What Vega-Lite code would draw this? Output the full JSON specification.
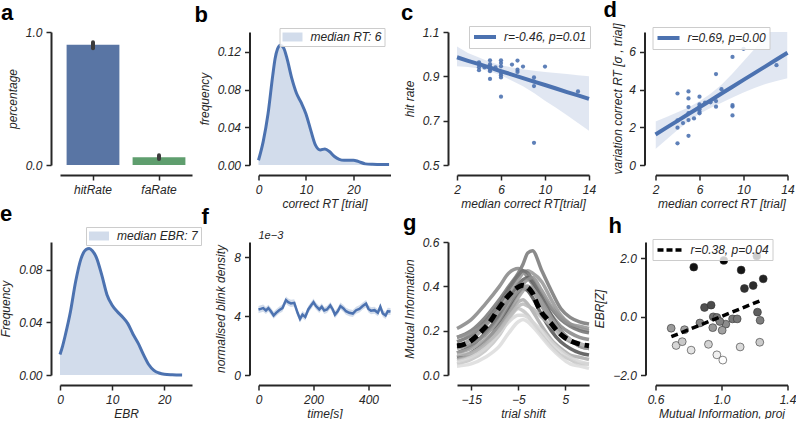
{
  "$schema": "https://vega.github.io/schema/vega-lite/v6.json",
  "padding": {"left": -1, "top": -2, "right": 0, "bottom": 0},
  "background": "white",
  "config": {
    "font": "Liberation Sans",
    "view": {"stroke": null},
    "axis": {
      "labelFont": "Liberation Sans", "labelFontStyle": "italic", "labelFontSize": 12, "labelColor": "#262626",
      "titleFont": "Liberation Sans", "titleFontStyle": "italic", "titleFontWeight": "normal", "titleFontSize": 12, "titleColor": "#262626",
      "domainColor": "#262626", "domainWidth": 2, "tickColor": "#262626", "tickWidth": 1.5, "tickSize": 5,
      "grid": false, "labelPadding": 4, "titlePadding": 3, "labelFlush": false, "labelOverlap": false
    },
    "axisX": {"offset": 10},
    "axisY": {"offset": 9, "titlePadding": 6},
    "title": {"anchor": "start", "frame": "group", "fontSize": 22, "fontWeight": "bold", "font": "Liberation Sans", "color": "#000000", "offset": 1},
    "legend": {
      "title": null, "orient": "none", "labelFont": "Liberation Sans", "labelFontStyle": "italic", "labelFontSize": 12, "labelColor": "#262626",
      "strokeColor": "#cccccc", "fillColor": "rgba(255,255,255,0.85)", "padding": 3
    }
  },
  "resolve": {
    "scale": {"color": "independent", "fill": "independent", "stroke": "independent"},
    "legend": {"color": "independent", "fill": "independent", "stroke": "independent"}
  },
  "datasets": {
    "rates": [
      {"cat": "hitRate", "rate": 0.905, "lo": 0.878, "hi": 0.922},
      {"cat": "faRate", "rate": 0.058, "lo": 0.045, "hi": 0.073}
    ],
    "rtkde": [
      {"rt": 0, "f": 0.005}, {"rt": 1, "f": 0.025}, {"rt": 2, "f": 0.054}, {"rt": 3, "f": 0.095}, {"rt": 3.5, "f": 0.113},
      {"rt": 4, "f": 0.123}, {"rt": 4.6, "f": 0.127}, {"rt": 5.3, "f": 0.124}, {"rt": 6, "f": 0.113}, {"rt": 7, "f": 0.092},
      {"rt": 8, "f": 0.076}, {"rt": 9, "f": 0.066}, {"rt": 10, "f": 0.054}, {"rt": 11, "f": 0.037}, {"rt": 12, "f": 0.021},
      {"rt": 13, "f": 0.016}, {"rt": 14, "f": 0.017}, {"rt": 15, "f": 0.014}, {"rt": 16, "f": 0.009}, {"rt": 17, "f": 0.006},
      {"rt": 18, "f": 0.005}, {"rt": 20, "f": 0.005}, {"rt": 21, "f": 0.0038}, {"rt": 22.5, "f": 0.0012}, {"rt": 24, "f": 0.0007},
      {"rt": 26, "f": 0.0005}, {"rt": 27.5, "f": 0.0005}
    ],
    "cpts": [
      {"rt": 4, "hit": 0.963}, {"rt": 4, "hit": 0.953}, {"rt": 4, "hit": 0.941}, {"rt": 4, "hit": 0.928}, {"rt": 4.5, "hit": 0.94},
      {"rt": 5, "hit": 0.972}, {"rt": 5, "hit": 0.955}, {"rt": 5, "hit": 0.945}, {"rt": 5, "hit": 0.93}, {"rt": 5, "hit": 0.923},
      {"rt": 5, "hit": 0.888}, {"rt": 5.5, "hit": 0.94}, {"rt": 6, "hit": 0.972}, {"rt": 6, "hit": 0.96}, {"rt": 6, "hit": 0.945},
      {"rt": 6, "hit": 0.915}, {"rt": 6, "hit": 0.905}, {"rt": 6, "hit": 0.895}, {"rt": 6, "hit": 0.808}, {"rt": 7, "hit": 0.953},
      {"rt": 7.5, "hit": 0.971}, {"rt": 7.5, "hit": 0.93}, {"rt": 7.5, "hit": 0.92}, {"rt": 8, "hit": 0.944}, {"rt": 9, "hit": 0.895},
      {"rt": 9, "hit": 0.877}, {"rt": 9, "hit": 0.856}, {"rt": 9, "hit": 0.6}, {"rt": 10, "hit": 0.944}, {"rt": 13, "hit": 0.832}
    ],
    "cfit": [
      {"rt": 2, "y": 0.986, "lo": 0.945, "hi": 1.035}, {"rt": 3, "y": 0.97, "lo": 0.942, "hi": 1.005},
      {"rt": 4, "y": 0.955, "lo": 0.935, "hi": 0.985}, {"rt": 5, "y": 0.939, "lo": 0.922, "hi": 0.965},
      {"rt": 6, "y": 0.923, "lo": 0.905, "hi": 0.95}, {"rt": 7, "y": 0.908, "lo": 0.88, "hi": 0.94},
      {"rt": 8, "y": 0.892, "lo": 0.855, "hi": 0.932}, {"rt": 9, "y": 0.876, "lo": 0.825, "hi": 0.925},
      {"rt": 10, "y": 0.861, "lo": 0.79, "hi": 0.92}, {"rt": 11, "y": 0.845, "lo": 0.758, "hi": 0.915},
      {"rt": 12, "y": 0.829, "lo": 0.724, "hi": 0.91}, {"rt": 13, "y": 0.814, "lo": 0.69, "hi": 0.905},
      {"rt": 14, "y": 0.798, "lo": 0.655, "hi": 0.9}
    ],
    "dpts": [
      {"rt": 4, "sd": 3.79}, {"rt": 4, "sd": 2.36}, {"rt": 4, "sd": 1.98}, {"rt": 4, "sd": 1.15}, {"rt": 4.5, "sd": 2.22},
      {"rt": 5, "sd": 3.9}, {"rt": 5, "sd": 3.53}, {"rt": 5, "sd": 3.07}, {"rt": 5, "sd": 2.75}, {"rt": 5, "sd": 2.38},
      {"rt": 5, "sd": 1.55}, {"rt": 5.5, "sd": 2.47}, {"rt": 6, "sd": 3.62}, {"rt": 6, "sd": 3.21}, {"rt": 6, "sd": 3.09},
      {"rt": 6, "sd": 2.96}, {"rt": 6, "sd": 2.82}, {"rt": 6, "sd": 2.74}, {"rt": 6.5, "sd": 3.3}, {"rt": 7, "sd": 3.32},
      {"rt": 7.5, "sd": 4.82}, {"rt": 7.5, "sd": 3.39}, {"rt": 7.5, "sd": 3.09}, {"rt": 8, "sd": 4.02}, {"rt": 9, "sd": 5.73},
      {"rt": 9, "sd": 3.18}, {"rt": 9, "sd": 3.1}, {"rt": 9, "sd": 2.63}, {"rt": 10, "sd": 6.16}, {"rt": 13, "sd": 5.29}
    ],
    "dfit": [
      {"rt": 2, "y": 1.62, "lo": 0.85, "hi": 2.3}, {"rt": 3, "y": 1.98, "lo": 1.35, "hi": 2.55},
      {"rt": 4, "y": 2.34, "lo": 1.85, "hi": 2.8}, {"rt": 5, "y": 2.7, "lo": 2.3, "hi": 3.05},
      {"rt": 6, "y": 3.06, "lo": 2.72, "hi": 3.38}, {"rt": 7, "y": 3.42, "lo": 3.02, "hi": 3.78},
      {"rt": 8, "y": 3.79, "lo": 3.3, "hi": 4.25}, {"rt": 9, "y": 4.15, "lo": 3.58, "hi": 4.85},
      {"rt": 10, "y": 4.51, "lo": 3.84, "hi": 5.5}, {"rt": 11, "y": 4.87, "lo": 4.08, "hi": 6.15},
      {"rt": 12, "y": 5.23, "lo": 4.3, "hi": 6.85}, {"rt": 13, "y": 5.59, "lo": 4.45, "hi": 7.5},
      {"rt": 14, "y": 5.95, "lo": 4.6, "hi": 8.2}
    ],
    "ebrkde": [
      {"ebr": 0, "f": 0.0156}, {"ebr": 0.5, "f": 0.022}, {"ebr": 1, "f": 0.03}, {"ebr": 2, "f": 0.048}, {"ebr": 3, "f": 0.071},
      {"ebr": 4, "f": 0.088}, {"ebr": 5, "f": 0.0953}, {"ebr": 5.6, "f": 0.0961}, {"ebr": 6.2, "f": 0.0943}, {"ebr": 7, "f": 0.089},
      {"ebr": 8, "f": 0.076}, {"ebr": 9, "f": 0.061}, {"ebr": 10, "f": 0.053}, {"ebr": 11, "f": 0.048}, {"ebr": 12, "f": 0.044},
      {"ebr": 13, "f": 0.039}, {"ebr": 14, "f": 0.031}, {"ebr": 15, "f": 0.024}, {"ebr": 16, "f": 0.0155}, {"ebr": 17, "f": 0.008},
      {"ebr": 18, "f": 0.0035}, {"ebr": 19, "f": 0.0015}, {"ebr": 20, "f": 0.0006}, {"ebr": 21.5, "f": 0.0002}, {"ebr": 23.4, "f": 0}
    ],
    "blink": [
      {"t": 0, "d": 4.46, "lo": 4.2, "hi": 4.7}, {"t": 8, "d": 4.5, "lo": 4.25, "hi": 4.75}, {"t": 17, "d": 4.55, "lo": 4.3, "hi": 4.8},
      {"t": 27, "d": 4.39, "lo": 4.15, "hi": 4.63}, {"t": 36, "d": 4.55, "lo": 4.3, "hi": 4.78}, {"t": 45, "d": 4.34, "lo": 4.1, "hi": 4.58},
      {"t": 55, "d": 4.05, "lo": 3.82, "hi": 4.3}, {"t": 64, "d": 4.23, "lo": 4.0, "hi": 4.47}, {"t": 75, "d": 4.41, "lo": 4.18, "hi": 4.65},
      {"t": 87, "d": 4.55, "lo": 4.3, "hi": 4.8}, {"t": 100, "d": 5.1, "lo": 4.85, "hi": 5.35}, {"t": 108, "d": 4.96, "lo": 4.72, "hi": 5.2},
      {"t": 118, "d": 4.87, "lo": 4.62, "hi": 5.12}, {"t": 130, "d": 4.91, "lo": 4.66, "hi": 5.16}, {"t": 142, "d": 4.23, "lo": 3.98, "hi": 4.48},
      {"t": 151, "d": 3.82, "lo": 3.58, "hi": 4.07}, {"t": 160, "d": 4.11, "lo": 3.87, "hi": 4.36}, {"t": 170, "d": 3.95, "lo": 3.7, "hi": 4.2},
      {"t": 181, "d": 4.46, "lo": 4.22, "hi": 4.7}, {"t": 191, "d": 4.73, "lo": 4.48, "hi": 4.97}, {"t": 200, "d": 4.96, "lo": 4.72, "hi": 5.2},
      {"t": 209, "d": 4.69, "lo": 4.45, "hi": 4.93}, {"t": 221, "d": 4.46, "lo": 4.22, "hi": 4.7}, {"t": 230, "d": 4.64, "lo": 4.4, "hi": 4.88},
      {"t": 239, "d": 4.39, "lo": 4.15, "hi": 4.63}, {"t": 249, "d": 4.46, "lo": 4.22, "hi": 4.7}, {"t": 261, "d": 4.73, "lo": 4.49, "hi": 4.97},
      {"t": 270, "d": 4.46, "lo": 4.22, "hi": 4.7}, {"t": 278, "d": 4.11, "lo": 3.87, "hi": 4.35}, {"t": 288, "d": 4.34, "lo": 4.1, "hi": 4.58},
      {"t": 298, "d": 4.69, "lo": 4.45, "hi": 4.93}, {"t": 309, "d": 4.53, "lo": 4.29, "hi": 4.77}, {"t": 318, "d": 4.34, "lo": 4.1, "hi": 4.58},
      {"t": 330, "d": 4.23, "lo": 3.99, "hi": 4.47}, {"t": 343, "d": 4.18, "lo": 3.94, "hi": 4.42}, {"t": 355, "d": 4.41, "lo": 4.17, "hi": 4.65},
      {"t": 367, "d": 4.5, "lo": 4.26, "hi": 4.74}, {"t": 379, "d": 4.69, "lo": 4.45, "hi": 4.93}, {"t": 391, "d": 4.85, "lo": 4.6, "hi": 5.1},
      {"t": 400, "d": 4.5, "lo": 4.26, "hi": 4.74}, {"t": 409, "d": 4.37, "lo": 4.13, "hi": 4.61}, {"t": 422, "d": 4.41, "lo": 4.17, "hi": 4.65},
      {"t": 434, "d": 4.23, "lo": 3.99, "hi": 4.47}, {"t": 443, "d": 4.64, "lo": 4.4, "hi": 4.88}, {"t": 452, "d": 4.18, "lo": 3.94, "hi": 4.42},
      {"t": 462, "d": 4.05, "lo": 3.81, "hi": 4.29}, {"t": 470, "d": 4.34, "lo": 4.1, "hi": 4.58}, {"t": 480, "d": 4.32, "lo": 4.08, "hi": 4.56}
    ],
    "mi": [
      {"s": "s01", "t": -18, "v": 0.17}, {"s": "s01", "t": -15, "v": 0.2}, {"s": "s01", "t": -12, "v": 0.26}, {"s": "s01", "t": -9, "v": 0.34}, {"s": "s01", "t": -7, "v": 0.4}, {"s": "s01", "t": -5, "v": 0.46}, {"s": "s01", "t": -4, "v": 0.5}, {"s": "s01", "t": -3, "v": 0.55}, {"s": "s01", "t": -2, "v": 0.56}, {"s": "s01", "t": 0, "v": 0.47}, {"s": "s01", "t": 2, "v": 0.38}, {"s": "s01", "t": 4, "v": 0.3}, {"s": "s01", "t": 6, "v": 0.26}, {"s": "s01", "t": 8, "v": 0.24}, {"s": "s01", "t": 10, "v": 0.23},
      {"s": "s02", "t": -18, "v": 0.21}, {"s": "s02", "t": -15, "v": 0.25}, {"s": "s02", "t": -12, "v": 0.32}, {"s": "s02", "t": -9, "v": 0.4}, {"s": "s02", "t": -7, "v": 0.46}, {"s": "s02", "t": -5, "v": 0.48}, {"s": "s02", "t": -4, "v": 0.47}, {"s": "s02", "t": -3, "v": 0.44}, {"s": "s02", "t": -2, "v": 0.41}, {"s": "s02", "t": 0, "v": 0.33}, {"s": "s02", "t": 2, "v": 0.27}, {"s": "s02", "t": 4, "v": 0.22}, {"s": "s02", "t": 6, "v": 0.19}, {"s": "s02", "t": 8, "v": 0.17}, {"s": "s02", "t": 10, "v": 0.16},
      {"s": "s03", "t": -18, "v": 0.08}, {"s": "s03", "t": -15, "v": 0.1}, {"s": "s03", "t": -12, "v": 0.15}, {"s": "s03", "t": -9, "v": 0.23}, {"s": "s03", "t": -7, "v": 0.3}, {"s": "s03", "t": -5, "v": 0.37}, {"s": "s03", "t": -4, "v": 0.39}, {"s": "s03", "t": -3, "v": 0.38}, {"s": "s03", "t": -2, "v": 0.35}, {"s": "s03", "t": 0, "v": 0.27}, {"s": "s03", "t": 2, "v": 0.2}, {"s": "s03", "t": 4, "v": 0.15}, {"s": "s03", "t": 6, "v": 0.12}, {"s": "s03", "t": 8, "v": 0.1}, {"s": "s03", "t": 10, "v": 0.09},
      {"s": "s04", "t": -18, "v": 0.1}, {"s": "s04", "t": -15, "v": 0.13}, {"s": "s04", "t": -12, "v": 0.19}, {"s": "s04", "t": -9, "v": 0.27}, {"s": "s04", "t": -7, "v": 0.34}, {"s": "s04", "t": -5, "v": 0.41}, {"s": "s04", "t": -4, "v": 0.43}, {"s": "s04", "t": -3, "v": 0.44}, {"s": "s04", "t": -2, "v": 0.42}, {"s": "s04", "t": 0, "v": 0.35}, {"s": "s04", "t": 2, "v": 0.27}, {"s": "s04", "t": 4, "v": 0.2}, {"s": "s04", "t": 6, "v": 0.16}, {"s": "s04", "t": 8, "v": 0.13}, {"s": "s04", "t": 10, "v": 0.12},
      {"s": "s05", "t": -18, "v": 0.13}, {"s": "s05", "t": -15, "v": 0.16}, {"s": "s05", "t": -12, "v": 0.22}, {"s": "s05", "t": -9, "v": 0.3}, {"s": "s05", "t": -7, "v": 0.37}, {"s": "s05", "t": -5, "v": 0.43}, {"s": "s05", "t": -4, "v": 0.46}, {"s": "s05", "t": -3, "v": 0.47}, {"s": "s05", "t": -2, "v": 0.46}, {"s": "s05", "t": 0, "v": 0.42}, {"s": "s05", "t": 2, "v": 0.34}, {"s": "s05", "t": 4, "v": 0.27}, {"s": "s05", "t": 6, "v": 0.23}, {"s": "s05", "t": 8, "v": 0.21}, {"s": "s05", "t": 10, "v": 0.2},
      {"s": "s06", "t": -18, "v": 0.07}, {"s": "s06", "t": -15, "v": 0.09}, {"s": "s06", "t": -12, "v": 0.13}, {"s": "s06", "t": -9, "v": 0.2}, {"s": "s06", "t": -7, "v": 0.27}, {"s": "s06", "t": -5, "v": 0.33}, {"s": "s06", "t": -4, "v": 0.34}, {"s": "s06", "t": -3, "v": 0.32}, {"s": "s06", "t": -2, "v": 0.29}, {"s": "s06", "t": 0, "v": 0.22}, {"s": "s06", "t": 2, "v": 0.16}, {"s": "s06", "t": 4, "v": 0.12}, {"s": "s06", "t": 6, "v": 0.09}, {"s": "s06", "t": 8, "v": 0.08}, {"s": "s06", "t": 10, "v": 0.07},
      {"s": "s07", "t": -18, "v": 0.05}, {"s": "s07", "t": -15, "v": 0.07}, {"s": "s07", "t": -12, "v": 0.11}, {"s": "s07", "t": -9, "v": 0.18}, {"s": "s07", "t": -7, "v": 0.25}, {"s": "s07", "t": -5, "v": 0.3}, {"s": "s07", "t": -4, "v": 0.29}, {"s": "s07", "t": -3, "v": 0.27}, {"s": "s07", "t": -2, "v": 0.24}, {"s": "s07", "t": 0, "v": 0.18}, {"s": "s07", "t": 2, "v": 0.13}, {"s": "s07", "t": 4, "v": 0.09}, {"s": "s07", "t": 6, "v": 0.07}, {"s": "s07", "t": 8, "v": 0.05}, {"s": "s07", "t": 10, "v": 0.05},
      {"s": "s08", "t": -18, "v": 0.12}, {"s": "s08", "t": -15, "v": 0.14}, {"s": "s08", "t": -12, "v": 0.18}, {"s": "s08", "t": -9, "v": 0.25}, {"s": "s08", "t": -7, "v": 0.32}, {"s": "s08", "t": -5, "v": 0.38}, {"s": "s08", "t": -4, "v": 0.4}, {"s": "s08", "t": -3, "v": 0.4}, {"s": "s08", "t": -2, "v": 0.38}, {"s": "s08", "t": 0, "v": 0.31}, {"s": "s08", "t": 2, "v": 0.24}, {"s": "s08", "t": 4, "v": 0.18}, {"s": "s08", "t": 6, "v": 0.15}, {"s": "s08", "t": 8, "v": 0.14}, {"s": "s08", "t": 10, "v": 0.13},
      {"s": "s09", "t": -18, "v": 0.06}, {"s": "s09", "t": -15, "v": 0.08}, {"s": "s09", "t": -12, "v": 0.12}, {"s": "s09", "t": -9, "v": 0.19}, {"s": "s09", "t": -7, "v": 0.24}, {"s": "s09", "t": -5, "v": 0.27}, {"s": "s09", "t": -4, "v": 0.27}, {"s": "s09", "t": -3, "v": 0.26}, {"s": "s09", "t": -2, "v": 0.24}, {"s": "s09", "t": 0, "v": 0.2}, {"s": "s09", "t": 2, "v": 0.15}, {"s": "s09", "t": 4, "v": 0.11}, {"s": "s09", "t": 6, "v": 0.08}, {"s": "s09", "t": 8, "v": 0.06}, {"s": "s09", "t": 10, "v": 0.05},
      {"s": "s10", "t": -18, "v": 0.15}, {"s": "s10", "t": -15, "v": 0.18}, {"s": "s10", "t": -12, "v": 0.24}, {"s": "s10", "t": -9, "v": 0.32}, {"s": "s10", "t": -7, "v": 0.39}, {"s": "s10", "t": -5, "v": 0.45}, {"s": "s10", "t": -4, "v": 0.47}, {"s": "s10", "t": -3, "v": 0.46}, {"s": "s10", "t": -2, "v": 0.43}, {"s": "s10", "t": 0, "v": 0.36}, {"s": "s10", "t": 2, "v": 0.3}, {"s": "s10", "t": 4, "v": 0.25}, {"s": "s10", "t": 6, "v": 0.22}, {"s": "s10", "t": 8, "v": 0.2}, {"s": "s10", "t": 10, "v": 0.19},
      {"s": "s11", "t": -18, "v": 0.1}, {"s": "s11", "t": -15, "v": 0.12}, {"s": "s11", "t": -12, "v": 0.16}, {"s": "s11", "t": -9, "v": 0.22}, {"s": "s11", "t": -7, "v": 0.28}, {"s": "s11", "t": -5, "v": 0.35}, {"s": "s11", "t": -4, "v": 0.38}, {"s": "s11", "t": -3, "v": 0.4}, {"s": "s11", "t": -2, "v": 0.39}, {"s": "s11", "t": 0, "v": 0.33}, {"s": "s11", "t": 2, "v": 0.26}, {"s": "s11", "t": 4, "v": 0.2}, {"s": "s11", "t": 6, "v": 0.16}, {"s": "s11", "t": 8, "v": 0.13}, {"s": "s11", "t": 10, "v": 0.12},
      {"s": "s12", "t": -18, "v": 0.09}, {"s": "s12", "t": -15, "v": 0.1}, {"s": "s12", "t": -12, "v": 0.14}, {"s": "s12", "t": -9, "v": 0.2}, {"s": "s12", "t": -7, "v": 0.26}, {"s": "s12", "t": -5, "v": 0.31}, {"s": "s12", "t": -4, "v": 0.32}, {"s": "s12", "t": -3, "v": 0.31}, {"s": "s12", "t": -2, "v": 0.3}, {"s": "s12", "t": 0, "v": 0.26}, {"s": "s12", "t": 2, "v": 0.22}, {"s": "s12", "t": 4, "v": 0.18}, {"s": "s12", "t": 6, "v": 0.16}, {"s": "s12", "t": 8, "v": 0.14}, {"s": "s12", "t": 10, "v": 0.13},
      {"s": "s13", "t": -18, "v": 0.17}, {"s": "s13", "t": -15, "v": 0.19}, {"s": "s13", "t": -12, "v": 0.23}, {"s": "s13", "t": -9, "v": 0.29}, {"s": "s13", "t": -7, "v": 0.34}, {"s": "s13", "t": -5, "v": 0.38}, {"s": "s13", "t": -4, "v": 0.41}, {"s": "s13", "t": -3, "v": 0.43}, {"s": "s13", "t": -2, "v": 0.44}, {"s": "s13", "t": 0, "v": 0.38}, {"s": "s13", "t": 2, "v": 0.31}, {"s": "s13", "t": 4, "v": 0.26}, {"s": "s13", "t": 6, "v": 0.23}, {"s": "s13", "t": 8, "v": 0.22}, {"s": "s13", "t": 10, "v": 0.21},
      {"s": "s14", "t": -18, "v": 0.04}, {"s": "s14", "t": -15, "v": 0.05}, {"s": "s14", "t": -12, "v": 0.08}, {"s": "s14", "t": -9, "v": 0.13}, {"s": "s14", "t": -7, "v": 0.19}, {"s": "s14", "t": -5, "v": 0.24}, {"s": "s14", "t": -4, "v": 0.25}, {"s": "s14", "t": -3, "v": 0.24}, {"s": "s14", "t": -2, "v": 0.22}, {"s": "s14", "t": 0, "v": 0.17}, {"s": "s14", "t": 2, "v": 0.12}, {"s": "s14", "t": 4, "v": 0.08}, {"s": "s14", "t": 6, "v": 0.05}, {"s": "s14", "t": 8, "v": 0.04}, {"s": "s14", "t": 10, "v": 0.03}
    ],
    "mimean": [
      {"t": -18, "v": 0.132}, {"t": -17, "v": 0.135}, {"t": -15, "v": 0.155}, {"t": -13, "v": 0.193}, {"t": -11, "v": 0.24},
      {"t": -9, "v": 0.305}, {"t": -7, "v": 0.36}, {"t": -5.5, "v": 0.39}, {"t": -4, "v": 0.405}, {"t": -3, "v": 0.395},
      {"t": -2, "v": 0.37}, {"t": -1, "v": 0.32}, {"t": 0, "v": 0.28}, {"t": 1, "v": 0.255}, {"t": 2, "v": 0.232},
      {"t": 3, "v": 0.205}, {"t": 4.5, "v": 0.175}, {"t": 6, "v": 0.155}, {"t": 7.5, "v": 0.143}, {"t": 9, "v": 0.135}, {"t": 10, "v": 0.132}
    ],
    "hpts": [
      {"mi": 0.832, "ebr": 1.69}, {"mi": 1.014, "ebr": 1.92}, {"mi": 1.214, "ebr": 2.07}, {"mi": 1.119, "ebr": 1.59},
      {"mi": 1.253, "ebr": 1.29}, {"mi": 1.192, "ebr": 1.06}, {"mi": 1.139, "ebr": 0.96}, {"mi": 0.897, "ebr": 0.31},
      {"mi": 0.937, "ebr": 0.39}, {"mi": 1.218, "ebr": 0.15}, {"mi": 0.869, "ebr": -0.22}, {"mi": 0.95, "ebr": -0.01},
      {"mi": 0.972, "ebr": -0.03}, {"mi": 1.067, "ebr": -0.08}, {"mi": 1.095, "ebr": -0.08}, {"mi": 1.234, "ebr": -0.13},
      {"mi": 0.947, "ebr": -0.38}, {"mi": 1.026, "ebr": -0.26}, {"mi": 1.004, "ebr": -0.47}, {"mi": 0.99, "ebr": -0.17},
      {"mi": 0.695, "ebr": -0.4}, {"mi": 0.776, "ebr": -0.45}, {"mi": 0.725, "ebr": -0.99}, {"mi": 0.762, "ebr": -0.86},
      {"mi": 0.816, "ebr": -1.15}, {"mi": 0.921, "ebr": -0.95}, {"mi": 1.113, "ebr": -1.04}, {"mi": 1.232, "ebr": -0.88},
      {"mi": 0.972, "ebr": -1.31}, {"mi": 1.008, "ebr": -1.49}
    ],
    "hfit": [
      {"mi": 0.696, "ebr": -0.69}, {"mi": 1.248, "ebr": 0.57}
    ]
  },
  "columns": 4,
  "spacing": {"row": 77, "column": 66.5},
  "bounds": "flush",
  "concat": [
    {
      "width": 132, "height": 133,
      "title": {"text": "a", "dx": -59},
      "data": {"name": "rates"},
      "layer": [
        {
          "mark": {"type": "bar"},
          "encoding": {
            "x": {"field": "cat", "type": "nominal", "sort": null, "scale": {"paddingInner": 0.2, "paddingOuter": 0.1}, "axis": {"title": null, "labelAngle": 0}},
            "y": {"field": "rate", "type": "quantitative", "scale": {"domain": [0, 1], "nice": false}, "axis": {"title": "percentage", "values": [0, 1], "format": ".1f"}},
            "color": {"field": "cat", "type": "nominal", "sort": null, "scale": {"range": ["#5975a4", "#5f9e6e"]}, "legend": null}
          }
        },
        {
          "mark": {"type": "rule", "strokeWidth": 4, "strokeCap": "round", "color": "#3c3c3c"},
          "encoding": {
            "x": {"field": "cat", "type": "nominal", "sort": null},
            "y": {"field": "lo", "type": "quantitative"},
            "y2": {"field": "hi"}
          }
        }
      ]
    },
    {
      "width": 132, "height": 133,
      "title": {"text": "b", "dx": -64},
      "data": {"name": "rtkde"},
      "layer": [
        {
          "mark": {"type": "area", "interpolate": "monotone"},
          "encoding": {
            "x": {"field": "rt", "type": "quantitative", "scale": {"domain": [0, 27.8], "nice": false}, "axis": {"title": "correct RT [trial]", "values": [0, 5, 10, 15, 20, 25]}},
            "y": {"field": "f", "type": "quantitative", "scale": {"domain": [0, 0.141], "nice": false}, "axis": {"title": "frequency", "values": [0, 0.04, 0.08, 0.12], "format": ".2f"}},
            "fill": {"datum": "median RT: 6", "type": "nominal", "scale": {"range": ["#d2dceb"]},
              "legend": {"legendX": 21, "legendY": -4, "symbolType": "M-1,-0.75L2.33,-0.75L2.33,0.75L-1,0.75Z", "symbolSize": 144, "symbolStrokeWidth": 0, "padding": 3, "labelOffset": 16}}
          }
        },
        {
          "mark": {"type": "line", "interpolate": "monotone", "color": "#4c72b0", "strokeWidth": 3},
          "encoding": {
            "x": {"field": "rt", "type": "quantitative"},
            "y": {"field": "f", "type": "quantitative"}
          }
        }
      ]
    },
    {
      "width": 132, "height": 133,
      "title": {"text": "c", "dx": -56},
      "layer": [
        {
          "data": {"name": "cfit"},
          "mark": {"type": "area", "color": "#4c72b0", "opacity": 0.17, "clip": true},
          "encoding": {
            "x": {"field": "rt", "type": "quantitative", "scale": {"domain": [2, 14], "nice": false}, "axis": {"title": "median correct RT[trial]", "values": [2, 4, 6, 8, 10, 12, 14]}},
            "y": {"field": "lo", "type": "quantitative", "scale": {"domain": [0.5, 1.1], "nice": false}, "axis": {"title": "hit rate", "values": [0.5, 0.7, 0.9, 1.1], "format": ".1f"}},
            "y2": {"field": "hi"}
          }
        },
        {
          "data": {"name": "cpts"},
          "mark": {"type": "circle", "color": "#4c72b0", "opacity": 0.9, "size": 18},
          "encoding": {
            "x": {"field": "rt", "type": "quantitative"},
            "y": {"field": "hit", "type": "quantitative"}
          }
        },
        {
          "data": {"name": "cfit"},
          "mark": {"type": "line", "strokeWidth": 4},
          "encoding": {
            "x": {"field": "rt", "type": "quantitative"},
            "y": {"field": "y", "type": "quantitative"},
            "color": {"datum": "r=-0.46, p=0.01", "type": "nominal", "scale": {"range": ["#4c72b0"]},
              "legend": {"legendX": 12, "legendY": -6, "symbolType": "M-1,0L2.67,0", "symbolSize": 144, "symbolStrokeWidth": 4, "labelOffset": 16}}
          }
        }
      ]
    },
    {
      "width": 132, "height": 133,
      "title": {"text": "d", "dx": -52},
      "layer": [
        {
          "data": {"name": "dfit"},
          "mark": {"type": "area", "color": "#4c72b0", "opacity": 0.17, "clip": true},
          "encoding": {
            "x": {"field": "rt", "type": "quantitative", "scale": {"domain": [2, 14], "nice": false}, "axis": {"title": "median correct RT [trial]", "values": [2, 4, 6, 8, 10, 12, 14]}},
            "y": {"field": "lo", "type": "quantitative", "scale": {"domain": [0, 7.05], "nice": false}, "axis": {"title": "variation correct RT [σ , trial]", "values": [0, 2, 4, 6], "offset": 11, "titlePadding": 4}},
            "y2": {"field": "hi"}
          }
        },
        {
          "data": {"name": "dpts"},
          "mark": {"type": "circle", "color": "#4c72b0", "opacity": 0.9, "size": 18},
          "encoding": {
            "x": {"field": "rt", "type": "quantitative"},
            "y": {"field": "sd", "type": "quantitative"}
          }
        },
        {
          "data": {"name": "dfit"},
          "mark": {"type": "line", "strokeWidth": 4},
          "encoding": {
            "x": {"field": "rt", "type": "quantitative"},
            "y": {"field": "y", "type": "quantitative"},
            "color": {"datum": "r=0.69, p=0.00", "type": "nominal", "scale": {"range": ["#4c72b0"]},
              "legend": {"legendX": -3, "legendY": -5, "symbolType": "M-1,0L2.67,0", "symbolSize": 144, "symbolStrokeWidth": 4, "labelOffset": 16}}
          }
        }
      ]
    },
    {
      "width": 132, "height": 133,
      "title": {"text": "e", "dx": -60},
      "data": {"name": "ebrkde"},
      "layer": [
        {
          "mark": {"type": "area", "interpolate": "monotone"},
          "encoding": {
            "x": {"field": "ebr", "type": "quantitative", "scale": {"domain": [0, 25.3], "nice": false}, "axis": {"title": "EBR", "values": [0, 5, 10, 15, 20, 25]}},
            "y": {"field": "f", "type": "quantitative", "scale": {"domain": [0, 0.101], "nice": false}, "axis": {"title": "Frequency", "values": [0, 0.04, 0.08], "format": ".2f"}},
            "fill": {"datum": "median EBR: 7", "type": "nominal", "scale": {"range": ["#d2dceb"]},
              "legend": {"legendX": 26, "legendY": -15, "symbolType": "M-1,-0.75L2.33,-0.75L2.33,0.75L-1,0.75Z", "symbolSize": 144, "symbolStrokeWidth": 0, "padding": 3, "labelOffset": 16}}
          }
        },
        {
          "mark": {"type": "line", "interpolate": "monotone", "color": "#4c72b0", "strokeWidth": 3},
          "encoding": {
            "x": {"field": "ebr", "type": "quantitative"},
            "y": {"field": "f", "type": "quantitative"}
          }
        }
      ]
    },
    {
      "width": 132, "height": 133,
      "title": {"text": "f", "dx": -57},
      "layer": [
        {
          "data": {"name": "blink"},
          "mark": {"type": "area", "color": "#4c72b0", "opacity": 0.25},
          "encoding": {
            "x": {"field": "t", "type": "quantitative", "scale": {"domain": [0, 480], "nice": false}, "axis": {"title": "time[s]", "values": [0, 100, 200, 300, 400]}},
            "y": {"field": "lo", "type": "quantitative", "scale": {"domain": [0, 9.05], "nice": false}, "axis": {"title": "normalised blink density", "values": [0, 4, 8]}},
            "y2": {"field": "hi"}
          }
        },
        {
          "data": {"name": "blink"},
          "mark": {"type": "line", "color": "#4c72b0", "strokeWidth": 2.5},
          "encoding": {
            "x": {"field": "t", "type": "quantitative"},
            "y": {"field": "d", "type": "quantitative"}
          }
        },
        {
          "data": {"values": [{}]},
          "mark": {"type": "text", "text": "1e\u22123", "align": "left", "baseline": "bottom", "dy": -1, "fontSize": 11, "fontStyle": "italic", "color": "#262626"},
          "encoding": {
            "x": {"datum": 0, "type": "quantitative"},
            "y": {"datum": 9.05, "type": "quantitative"}
          }
        }
      ]
    },
    {
      "width": 132, "height": 133,
      "title": {"text": "g", "dx": -54},
      "layer": [
        {
          "data": {"name": "mi"},
          "mark": {"type": "line", "interpolate": "monotone", "strokeWidth": 3.5, "opacity": 0.85},
          "encoding": {
            "x": {"field": "t", "type": "quantitative", "scale": {"domain": [-18, 10], "nice": false}, "axis": {"title": "trial shift", "values": [-15, -10, -5, 0, 5]}},
            "y": {"field": "v", "type": "quantitative", "scale": {"domain": [0, 0.6], "nice": false}, "axis": {"title": "Mutual Information", "values": [0, 0.2, 0.4, 0.6], "format": ".1f"}},
            "stroke": {"field": "s", "type": "nominal", "legend": null,
              "scale": {"range": ["#767676", "#858585", "#4f4f4f", "#606060", "#959595", "#aaaaaa", "#c4c4c4", "#8f8f8f", "#d6d6d6", "#707070", "#a0a0a0", "#b8b8b8", "#939393", "#dcdcdc"]}}
          }
        },
        {
          "data": {"name": "mimean"},
          "mark": {"type": "line", "interpolate": "monotone", "strokeWidth": 5, "color": "#000000", "strokeDash": [9, 5]},
          "encoding": {
            "x": {"field": "t", "type": "quantitative"},
            "y": {"field": "v", "type": "quantitative"}
          }
        },
        {
          "mark": {"type": "rule", "color": "#000000", "strokeWidth": 1.2},
          "encoding": {"x": {"datum": 0, "type": "quantitative"}}
        }
      ]
    },
    {
      "width": 132, "height": 133,
      "title": {"text": "h", "dx": -47},
      "layer": [
        {
          "mark": {"type": "rule", "color": "#000000", "strokeWidth": 1.2},
          "encoding": {"x": {"datum": 1.0, "type": "quantitative", "scale": {"domain": [0.6, 1.4], "nice": false}, "axis": {"title": "Mutual Information, proj", "values": [0.6, 0.8, 1.0, 1.2, 1.4], "format": ".1f"}}}
        },
        {
          "mark": {"type": "rule", "color": "#000000", "strokeWidth": 1.2},
          "encoding": {"y": {"datum": 0, "type": "quantitative", "scale": {"domain": [-2, 2.55], "nice": false}, "axis": {"title": "EBR[Z]", "values": [-2, -1, 0, 1, 2], "format": ".1f", "offset": 10}}}
        },
        {
          "data": {"name": "hpts"},
          "mark": {"type": "circle", "size": 62, "stroke": "#333333", "strokeWidth": 0.6, "opacity": 1},
          "encoding": {
            "x": {"field": "mi", "type": "quantitative"},
            "y": {"field": "ebr", "type": "quantitative"},
            "fill": {"field": "ebr", "type": "quantitative", "legend": null,
              "scale": {"domain": [-1.5, -1, -0.3, 0.3, 1.5], "range": ["#ffffff", "#d8d8d8", "#909090", "#505050", "#1a1a1a"]}}
          }
        },
        {
          "data": {"name": "hfit"},
          "mark": {"type": "line", "strokeWidth": 3.5, "strokeDash": [7, 4]},
          "encoding": {
            "x": {"field": "mi", "type": "quantitative"},
            "y": {"field": "ebr", "type": "quantitative"},
            "stroke": {"datum": "r=0.38, p=0.04", "type": "nominal", "scale": {"range": ["#000000"]},
              "legend": {"legendX": -3, "legendY": -3, "symbolType": "M-1,0L3.17,0", "symbolSize": 144, "symbolStrokeWidth": 3.5, "symbolDash": [6, 3], "labelOffset": 19, "fillColor": "rgba(255,255,255,0.8)"}}
          }
        }
      ]
    }
  ]
}
